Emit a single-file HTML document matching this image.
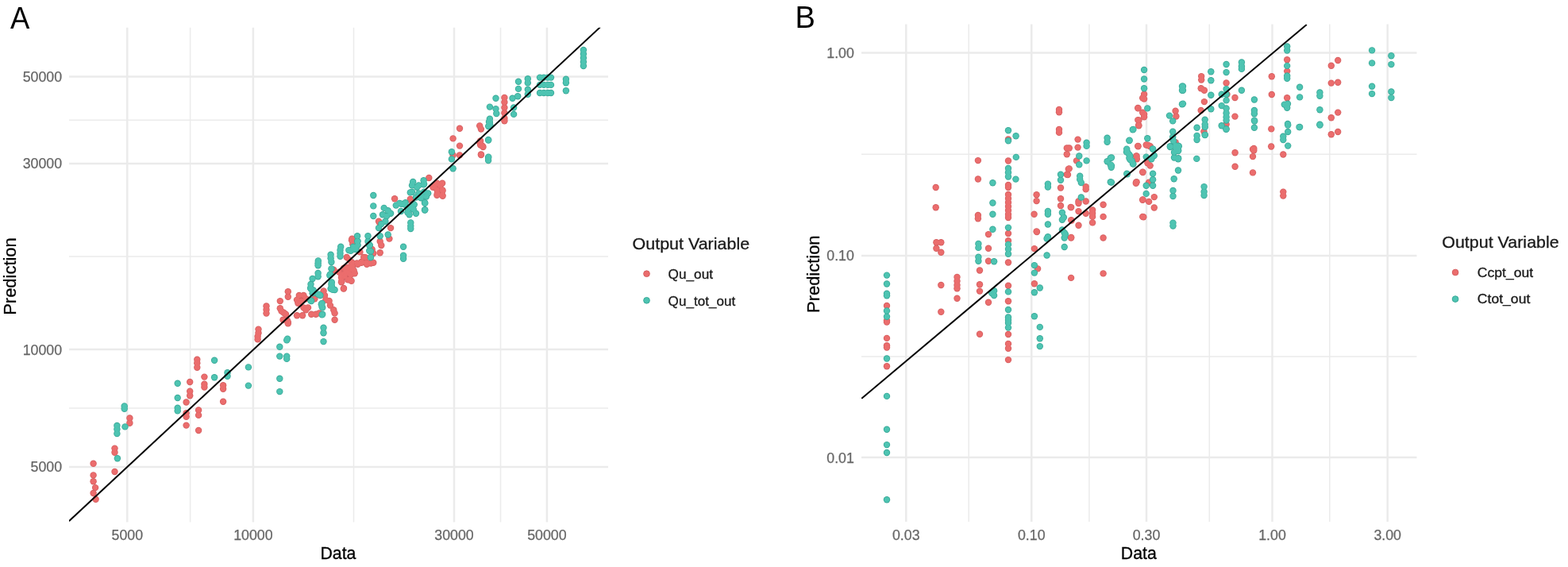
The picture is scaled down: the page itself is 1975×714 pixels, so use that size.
<!DOCTYPE html>
<html><head><meta charset="utf-8"><title>Prediction vs Data</title>
<style>
html,body{margin:0;padding:0;background:#fff;}
body{width:1975px;height:714px;overflow:hidden;}
svg{display:block;}
text{font-family:'Liberation Sans', Arial, Helvetica, sans-serif;}
</style></head><body>
<svg width="1975" height="714" viewBox="0 0 1975 714">
<rect x="0" y="0" width="1975" height="714" fill="#fff"/>

<defs><clipPath id="cA"><rect x="87" y="34.7" width="679" height="622.6999999999999"/></clipPath></defs>
<g stroke="#EBEBEB" fill="none">
<line x1="87" y1="151.25" x2="766" y2="151.25" stroke-width="1.5"/>
<line x1="87" y1="323.0" x2="766" y2="323.0" stroke-width="1.5"/>
<line x1="87" y1="514.0" x2="766" y2="514.0" stroke-width="1.5"/>
<line x1="239.6" y1="34.7" x2="239.6" y2="657.4" stroke-width="1.5"/>
<line x1="445.5" y1="34.7" x2="445.5" y2="657.4" stroke-width="1.5"/>
<line x1="630.5" y1="34.7" x2="630.5" y2="657.4" stroke-width="1.5"/>
<line x1="87" y1="96.6" x2="766" y2="96.6" stroke-width="2.5"/>
<line x1="87" y1="205.9" x2="766" y2="205.9" stroke-width="2.5"/>
<line x1="87" y1="440.1" x2="766" y2="440.1" stroke-width="2.5"/>
<line x1="87" y1="587.9" x2="766" y2="587.9" stroke-width="2.5"/>
<line x1="160.3" y1="34.7" x2="160.3" y2="657.4" stroke-width="2.5"/>
<line x1="318.9" y1="34.7" x2="318.9" y2="657.4" stroke-width="2.5"/>
<line x1="572.0" y1="34.7" x2="572.0" y2="657.4" stroke-width="2.5"/>
<line x1="688.9" y1="34.7" x2="688.9" y2="657.4" stroke-width="2.5"/>
</g>
<defs><clipPath id="cB"><rect x="1085" y="30.5" width="699.5" height="626.5"/></clipPath></defs>
<g stroke="#EBEBEB" fill="none">
<line x1="1085" y1="194.2" x2="1784.5" y2="194.2" stroke-width="1.5"/>
<line x1="1085" y1="449.0" x2="1784.5" y2="449.0" stroke-width="1.5"/>
<line x1="1220.2" y1="30.5" x2="1220.2" y2="657" stroke-width="1.5"/>
<line x1="1371.9" y1="30.5" x2="1371.9" y2="657" stroke-width="1.5"/>
<line x1="1523.3" y1="30.5" x2="1523.3" y2="657" stroke-width="1.5"/>
<line x1="1674.8" y1="30.5" x2="1674.8" y2="657" stroke-width="1.5"/>
<line x1="1085" y1="66.5" x2="1784.5" y2="66.5" stroke-width="2.5"/>
<line x1="1085" y1="321.9" x2="1784.5" y2="321.9" stroke-width="2.5"/>
<line x1="1085" y1="576.1" x2="1784.5" y2="576.1" stroke-width="2.5"/>
<line x1="1141.3" y1="30.5" x2="1141.3" y2="657" stroke-width="2.5"/>
<line x1="1299.3" y1="30.5" x2="1299.3" y2="657" stroke-width="2.5"/>
<line x1="1444.0" y1="30.5" x2="1444.0" y2="657" stroke-width="2.5"/>
<line x1="1602.5" y1="30.5" x2="1602.5" y2="657" stroke-width="2.5"/>
<line x1="1747.7" y1="30.5" x2="1747.7" y2="657" stroke-width="2.5"/>
</g>
<g clip-path="url(#cA)">
<g fill="#D65F61"><circle cx="117.6" cy="583.7" r="4.2"/><circle cx="117.6" cy="598.4" r="4.2"/><circle cx="117.6" cy="606.3" r="4.2"/><circle cx="120.1" cy="614.1" r="4.2"/><circle cx="117.6" cy="621" r="4.2"/><circle cx="120.6" cy="628.8" r="4.2"/><circle cx="144.5" cy="564.6" r="4.2"/><circle cx="144.5" cy="569.8" r="4.2"/><circle cx="144.5" cy="594" r="4.2"/><circle cx="163.4" cy="526.5" r="4.2"/><circle cx="163.4" cy="532.7" r="4.2"/><circle cx="248.3" cy="452.8" r="4.2"/><circle cx="248.3" cy="457.3" r="4.2"/><circle cx="248.3" cy="462.8" r="4.2"/><circle cx="257.4" cy="474.6" r="4.2"/><circle cx="257.4" cy="483.7" r="4.2"/><circle cx="257.4" cy="487.5" r="4.2"/><circle cx="239.2" cy="481" r="4.2"/><circle cx="281.1" cy="485.2" r="4.2"/><circle cx="281.1" cy="489.7" r="4.2"/><circle cx="239.2" cy="492.8" r="4.2"/><circle cx="239.2" cy="498.2" r="4.2"/><circle cx="234.6" cy="506.5" r="4.2"/><circle cx="281.1" cy="505.8" r="4.2"/><circle cx="234.6" cy="520.2" r="4.2"/><circle cx="234.6" cy="524.7" r="4.2"/><circle cx="250.1" cy="516.5" r="4.2"/><circle cx="250.1" cy="522.9" r="4.2"/><circle cx="234.6" cy="535.6" r="4.2"/><circle cx="250.1" cy="542" r="4.2"/><circle cx="325.5" cy="414.6" r="4.2"/><circle cx="325.5" cy="419.2" r="4.2"/><circle cx="324.6" cy="423.8" r="4.2"/><circle cx="324.6" cy="427.4" r="4.2"/><circle cx="335.5" cy="385.5" r="4.2"/><circle cx="335.5" cy="390" r="4.2"/><circle cx="335.5" cy="394.6" r="4.2"/><circle cx="352.8" cy="379.1" r="4.2"/><circle cx="352.8" cy="388.2" r="4.2"/><circle cx="354.6" cy="391.9" r="4.2"/><circle cx="357.4" cy="393.7" r="4.2"/><circle cx="362.8" cy="367.3" r="4.2"/><circle cx="362.8" cy="373.7" r="4.2"/><circle cx="356.5" cy="402.8" r="4.2"/><circle cx="361.9" cy="403.7" r="4.2"/><circle cx="362.8" cy="407.4" r="4.2"/><circle cx="376.8" cy="372" r="4.2"/><circle cx="382.4" cy="372" r="4.2"/><circle cx="374" cy="377.6" r="4.2"/><circle cx="379.6" cy="379" r="4.2"/><circle cx="385.2" cy="376.2" r="4.2"/><circle cx="375.4" cy="381.8" r="4.2"/><circle cx="382.4" cy="387.4" r="4.2"/><circle cx="388" cy="387.4" r="4.2"/><circle cx="385.2" cy="390.2" r="4.2"/><circle cx="374" cy="397.2" r="4.2"/><circle cx="381" cy="397.2" r="4.2"/><circle cx="392.2" cy="395.8" r="4.2"/><circle cx="397.8" cy="395.8" r="4.2"/><circle cx="402" cy="394.4" r="4.2"/><circle cx="396.4" cy="376.2" r="4.2"/><circle cx="407.6" cy="366.4" r="4.2"/><circle cx="409" cy="372" r="4.2"/><circle cx="410.4" cy="377.6" r="4.2"/><circle cx="414.6" cy="379" r="4.2"/><circle cx="416" cy="384.6" r="4.2"/><circle cx="420.2" cy="390.2" r="4.2"/><circle cx="421.6" cy="394.4" r="4.2"/><circle cx="421.6" cy="402.8" r="4.2"/><circle cx="360" cy="395.8" r="4.2"/><circle cx="362.8" cy="405.6" r="4.2"/><circle cx="420.2" cy="339.8" r="4.2"/><circle cx="427.2" cy="342.6" r="4.2"/><circle cx="430" cy="349.6" r="4.2"/><circle cx="432.8" cy="345.4" r="4.2"/><circle cx="438.4" cy="338.4" r="4.2"/><circle cx="444" cy="335.6" r="4.2"/><circle cx="449.6" cy="331.4" r="4.2"/><circle cx="455.2" cy="330" r="4.2"/><circle cx="430" cy="355.2" r="4.2"/><circle cx="438.4" cy="352.4" r="4.2"/><circle cx="442.6" cy="353.8" r="4.2"/><circle cx="432.8" cy="363.6" r="4.2"/><circle cx="420.4" cy="340.4" r="4.2"/><circle cx="436.7" cy="324" r="4.2"/><circle cx="440.5" cy="327.7" r="4.2"/><circle cx="433" cy="337.8" r="4.2"/><circle cx="438" cy="336.6" r="4.2"/><circle cx="443" cy="335.3" r="4.2"/><circle cx="445.6" cy="340.4" r="4.2"/><circle cx="435.5" cy="342.9" r="4.2"/><circle cx="439.3" cy="344.1" r="4.2"/><circle cx="430.4" cy="346.7" r="4.2"/><circle cx="434.2" cy="347.9" r="4.2"/><circle cx="440.5" cy="351.7" r="4.2"/><circle cx="430.4" cy="354.2" r="4.2"/><circle cx="433" cy="363" r="4.2"/><circle cx="450.6" cy="332.8" r="4.2"/><circle cx="455.7" cy="330.3" r="4.2"/><circle cx="458.2" cy="324" r="4.2"/><circle cx="462" cy="332.8" r="4.2"/><circle cx="467" cy="331.5" r="4.2"/><circle cx="468.3" cy="315.1" r="4.2"/><circle cx="443" cy="302.5" r="4.2"/><circle cx="444.3" cy="307.6" r="4.2"/><circle cx="497.1" cy="250.2" r="4.2"/><circle cx="517.3" cy="251.8" r="4.2"/><circle cx="477" cy="278.7" r="4.2"/><circle cx="478.7" cy="282.1" r="4.2"/><circle cx="492.1" cy="287.1" r="4.2"/><circle cx="490.4" cy="300.6" r="4.2"/><circle cx="478.7" cy="304" r="4.2"/><circle cx="480.3" cy="309" r="4.2"/><circle cx="478.7" cy="318.2" r="4.2"/><circle cx="468.6" cy="314" r="4.2"/><circle cx="470.3" cy="319.1" r="4.2"/><circle cx="470.3" cy="330.8" r="4.2"/><circle cx="443.4" cy="300.6" r="4.2"/><circle cx="445" cy="305.6" r="4.2"/><circle cx="453.4" cy="317.4" r="4.2"/><circle cx="460.2" cy="324.1" r="4.2"/><circle cx="455.1" cy="330.8" r="4.2"/><circle cx="461.8" cy="330.8" r="4.2"/><circle cx="443.4" cy="330.8" r="4.2"/><circle cx="443.4" cy="339.2" r="4.2"/><circle cx="446.7" cy="344.3" r="4.2"/><circle cx="441.7" cy="346" r="4.2"/><circle cx="547.6" cy="233.4" r="4.2"/><circle cx="554.3" cy="233.4" r="4.2"/><circle cx="557.6" cy="240.1" r="4.2"/><circle cx="550.9" cy="243.4" r="4.2"/><circle cx="557.6" cy="246.8" r="4.2"/><circle cx="579" cy="161.8" r="4.2"/><circle cx="570.6" cy="174.4" r="4.2"/><circle cx="579" cy="183.6" r="4.2"/><circle cx="570.6" cy="195.4" r="4.2"/><circle cx="579" cy="195.4" r="4.2"/><circle cx="604.2" cy="158.4" r="4.2"/><circle cx="605.9" cy="162.6" r="4.2"/><circle cx="604.2" cy="179.4" r="4.2"/><circle cx="607.6" cy="183.6" r="4.2"/><circle cx="605.9" cy="194.5" r="4.2"/><circle cx="540.3" cy="224" r="4.2"/><circle cx="550.4" cy="230.7" r="4.2"/><circle cx="557.1" cy="230.7" r="4.2"/><circle cx="550.4" cy="239.1" r="4.2"/><circle cx="557.1" cy="239.1" r="4.2"/><circle cx="550.4" cy="245.8" r="4.2"/><circle cx="557.1" cy="245.8" r="4.2"/><circle cx="545.4" cy="235.7" r="4.2"/><circle cx="516.8" cy="250.8" r="4.2"/><circle cx="635.4" cy="122.9" r="4.2"/><circle cx="635.4" cy="128.7" r="4.2"/><circle cx="635.4" cy="135.5" r="4.2"/><circle cx="635.4" cy="142.2" r="4.2"/><circle cx="635.4" cy="148.9" r="4.2"/><circle cx="635.4" cy="152.3" r="4.2"/><circle cx="605.1" cy="177.5" r="4.2"/><circle cx="605.1" cy="182.5" r="4.2"/><circle cx="608.5" cy="185" r="4.2"/><circle cx="606" cy="195.1" r="4.2"/></g><g fill="#EB6D6D"><circle cx="117.6" cy="583.7" r="3.3"/><circle cx="117.6" cy="598.4" r="3.3"/><circle cx="117.6" cy="606.3" r="3.3"/><circle cx="120.1" cy="614.1" r="3.3"/><circle cx="117.6" cy="621" r="3.3"/><circle cx="120.6" cy="628.8" r="3.3"/><circle cx="144.5" cy="564.6" r="3.3"/><circle cx="144.5" cy="569.8" r="3.3"/><circle cx="144.5" cy="594" r="3.3"/><circle cx="163.4" cy="526.5" r="3.3"/><circle cx="163.4" cy="532.7" r="3.3"/><circle cx="248.3" cy="452.8" r="3.3"/><circle cx="248.3" cy="457.3" r="3.3"/><circle cx="248.3" cy="462.8" r="3.3"/><circle cx="257.4" cy="474.6" r="3.3"/><circle cx="257.4" cy="483.7" r="3.3"/><circle cx="257.4" cy="487.5" r="3.3"/><circle cx="239.2" cy="481" r="3.3"/><circle cx="281.1" cy="485.2" r="3.3"/><circle cx="281.1" cy="489.7" r="3.3"/><circle cx="239.2" cy="492.8" r="3.3"/><circle cx="239.2" cy="498.2" r="3.3"/><circle cx="234.6" cy="506.5" r="3.3"/><circle cx="281.1" cy="505.8" r="3.3"/><circle cx="234.6" cy="520.2" r="3.3"/><circle cx="234.6" cy="524.7" r="3.3"/><circle cx="250.1" cy="516.5" r="3.3"/><circle cx="250.1" cy="522.9" r="3.3"/><circle cx="234.6" cy="535.6" r="3.3"/><circle cx="250.1" cy="542" r="3.3"/><circle cx="325.5" cy="414.6" r="3.3"/><circle cx="325.5" cy="419.2" r="3.3"/><circle cx="324.6" cy="423.8" r="3.3"/><circle cx="324.6" cy="427.4" r="3.3"/><circle cx="335.5" cy="385.5" r="3.3"/><circle cx="335.5" cy="390" r="3.3"/><circle cx="335.5" cy="394.6" r="3.3"/><circle cx="352.8" cy="379.1" r="3.3"/><circle cx="352.8" cy="388.2" r="3.3"/><circle cx="354.6" cy="391.9" r="3.3"/><circle cx="357.4" cy="393.7" r="3.3"/><circle cx="362.8" cy="367.3" r="3.3"/><circle cx="362.8" cy="373.7" r="3.3"/><circle cx="356.5" cy="402.8" r="3.3"/><circle cx="361.9" cy="403.7" r="3.3"/><circle cx="362.8" cy="407.4" r="3.3"/><circle cx="376.8" cy="372" r="3.3"/><circle cx="382.4" cy="372" r="3.3"/><circle cx="374" cy="377.6" r="3.3"/><circle cx="379.6" cy="379" r="3.3"/><circle cx="385.2" cy="376.2" r="3.3"/><circle cx="375.4" cy="381.8" r="3.3"/><circle cx="382.4" cy="387.4" r="3.3"/><circle cx="388" cy="387.4" r="3.3"/><circle cx="385.2" cy="390.2" r="3.3"/><circle cx="374" cy="397.2" r="3.3"/><circle cx="381" cy="397.2" r="3.3"/><circle cx="392.2" cy="395.8" r="3.3"/><circle cx="397.8" cy="395.8" r="3.3"/><circle cx="402" cy="394.4" r="3.3"/><circle cx="396.4" cy="376.2" r="3.3"/><circle cx="407.6" cy="366.4" r="3.3"/><circle cx="409" cy="372" r="3.3"/><circle cx="410.4" cy="377.6" r="3.3"/><circle cx="414.6" cy="379" r="3.3"/><circle cx="416" cy="384.6" r="3.3"/><circle cx="420.2" cy="390.2" r="3.3"/><circle cx="421.6" cy="394.4" r="3.3"/><circle cx="421.6" cy="402.8" r="3.3"/><circle cx="360" cy="395.8" r="3.3"/><circle cx="362.8" cy="405.6" r="3.3"/><circle cx="420.2" cy="339.8" r="3.3"/><circle cx="427.2" cy="342.6" r="3.3"/><circle cx="430" cy="349.6" r="3.3"/><circle cx="432.8" cy="345.4" r="3.3"/><circle cx="438.4" cy="338.4" r="3.3"/><circle cx="444" cy="335.6" r="3.3"/><circle cx="449.6" cy="331.4" r="3.3"/><circle cx="455.2" cy="330" r="3.3"/><circle cx="430" cy="355.2" r="3.3"/><circle cx="438.4" cy="352.4" r="3.3"/><circle cx="442.6" cy="353.8" r="3.3"/><circle cx="432.8" cy="363.6" r="3.3"/><circle cx="420.4" cy="340.4" r="3.3"/><circle cx="436.7" cy="324" r="3.3"/><circle cx="440.5" cy="327.7" r="3.3"/><circle cx="433" cy="337.8" r="3.3"/><circle cx="438" cy="336.6" r="3.3"/><circle cx="443" cy="335.3" r="3.3"/><circle cx="445.6" cy="340.4" r="3.3"/><circle cx="435.5" cy="342.9" r="3.3"/><circle cx="439.3" cy="344.1" r="3.3"/><circle cx="430.4" cy="346.7" r="3.3"/><circle cx="434.2" cy="347.9" r="3.3"/><circle cx="440.5" cy="351.7" r="3.3"/><circle cx="430.4" cy="354.2" r="3.3"/><circle cx="433" cy="363" r="3.3"/><circle cx="450.6" cy="332.8" r="3.3"/><circle cx="455.7" cy="330.3" r="3.3"/><circle cx="458.2" cy="324" r="3.3"/><circle cx="462" cy="332.8" r="3.3"/><circle cx="467" cy="331.5" r="3.3"/><circle cx="468.3" cy="315.1" r="3.3"/><circle cx="443" cy="302.5" r="3.3"/><circle cx="444.3" cy="307.6" r="3.3"/><circle cx="497.1" cy="250.2" r="3.3"/><circle cx="517.3" cy="251.8" r="3.3"/><circle cx="477" cy="278.7" r="3.3"/><circle cx="478.7" cy="282.1" r="3.3"/><circle cx="492.1" cy="287.1" r="3.3"/><circle cx="490.4" cy="300.6" r="3.3"/><circle cx="478.7" cy="304" r="3.3"/><circle cx="480.3" cy="309" r="3.3"/><circle cx="478.7" cy="318.2" r="3.3"/><circle cx="468.6" cy="314" r="3.3"/><circle cx="470.3" cy="319.1" r="3.3"/><circle cx="470.3" cy="330.8" r="3.3"/><circle cx="443.4" cy="300.6" r="3.3"/><circle cx="445" cy="305.6" r="3.3"/><circle cx="453.4" cy="317.4" r="3.3"/><circle cx="460.2" cy="324.1" r="3.3"/><circle cx="455.1" cy="330.8" r="3.3"/><circle cx="461.8" cy="330.8" r="3.3"/><circle cx="443.4" cy="330.8" r="3.3"/><circle cx="443.4" cy="339.2" r="3.3"/><circle cx="446.7" cy="344.3" r="3.3"/><circle cx="441.7" cy="346" r="3.3"/><circle cx="547.6" cy="233.4" r="3.3"/><circle cx="554.3" cy="233.4" r="3.3"/><circle cx="557.6" cy="240.1" r="3.3"/><circle cx="550.9" cy="243.4" r="3.3"/><circle cx="557.6" cy="246.8" r="3.3"/><circle cx="579" cy="161.8" r="3.3"/><circle cx="570.6" cy="174.4" r="3.3"/><circle cx="579" cy="183.6" r="3.3"/><circle cx="570.6" cy="195.4" r="3.3"/><circle cx="579" cy="195.4" r="3.3"/><circle cx="604.2" cy="158.4" r="3.3"/><circle cx="605.9" cy="162.6" r="3.3"/><circle cx="604.2" cy="179.4" r="3.3"/><circle cx="607.6" cy="183.6" r="3.3"/><circle cx="605.9" cy="194.5" r="3.3"/><circle cx="540.3" cy="224" r="3.3"/><circle cx="550.4" cy="230.7" r="3.3"/><circle cx="557.1" cy="230.7" r="3.3"/><circle cx="550.4" cy="239.1" r="3.3"/><circle cx="557.1" cy="239.1" r="3.3"/><circle cx="550.4" cy="245.8" r="3.3"/><circle cx="557.1" cy="245.8" r="3.3"/><circle cx="545.4" cy="235.7" r="3.3"/><circle cx="516.8" cy="250.8" r="3.3"/><circle cx="635.4" cy="122.9" r="3.3"/><circle cx="635.4" cy="128.7" r="3.3"/><circle cx="635.4" cy="135.5" r="3.3"/><circle cx="635.4" cy="142.2" r="3.3"/><circle cx="635.4" cy="148.9" r="3.3"/><circle cx="635.4" cy="152.3" r="3.3"/><circle cx="605.1" cy="177.5" r="3.3"/><circle cx="605.1" cy="182.5" r="3.3"/><circle cx="608.5" cy="185" r="3.3"/><circle cx="606" cy="195.1" r="3.3"/></g>
<g fill="#39A998"><circle cx="156.7" cy="511.4" r="4.2"/><circle cx="156.7" cy="514.7" r="4.2"/><circle cx="157.5" cy="537.4" r="4.2"/><circle cx="147.4" cy="536" r="4.2"/><circle cx="147.4" cy="540.5" r="4.2"/><circle cx="147.4" cy="546.1" r="4.2"/><circle cx="147.9" cy="577.2" r="4.2"/><circle cx="270.1" cy="453.7" r="4.2"/><circle cx="312.9" cy="462.4" r="4.2"/><circle cx="286.5" cy="469.2" r="4.2"/><circle cx="286.5" cy="473.7" r="4.2"/><circle cx="270.1" cy="475.2" r="4.2"/><circle cx="223.7" cy="482.8" r="4.2"/><circle cx="312.9" cy="485.6" r="4.2"/><circle cx="223.7" cy="501" r="4.2"/><circle cx="223.7" cy="513.8" r="4.2"/><circle cx="223.7" cy="517.4" r="4.2"/><circle cx="391.1" cy="362.7" r="4.2"/><circle cx="394.7" cy="365.5" r="4.2"/><circle cx="391.1" cy="378.2" r="4.2"/><circle cx="402" cy="370.9" r="4.2"/><circle cx="405.6" cy="381.9" r="4.2"/><circle cx="405.6" cy="386.4" r="4.2"/><circle cx="416.6" cy="363.6" r="4.2"/><circle cx="405.6" cy="396.4" r="4.2"/><circle cx="407.5" cy="412.8" r="4.2"/><circle cx="407.5" cy="419.2" r="4.2"/><circle cx="407.5" cy="430.1" r="4.2"/><circle cx="361.2" cy="428.4" r="4.2"/><circle cx="352.3" cy="436.8" r="4.2"/><circle cx="352.3" cy="448.6" r="4.2"/><circle cx="361.2" cy="448.6" r="4.2"/><circle cx="361.2" cy="451.9" r="4.2"/><circle cx="352.3" cy="476.8" r="4.2"/><circle cx="352.3" cy="493.1" r="4.2"/><circle cx="400.6" cy="331.4" r="4.2"/><circle cx="400.6" cy="334.2" r="4.2"/><circle cx="400.6" cy="344" r="4.2"/><circle cx="400.6" cy="348.2" r="4.2"/><circle cx="393.6" cy="351" r="4.2"/><circle cx="391.5" cy="358" r="4.2"/><circle cx="391.5" cy="363.6" r="4.2"/><circle cx="393.6" cy="369.2" r="4.2"/><circle cx="400.6" cy="370.6" r="4.2"/><circle cx="403.4" cy="372" r="4.2"/><circle cx="392.2" cy="379" r="4.2"/><circle cx="404.8" cy="383.2" r="4.2"/><circle cx="406.2" cy="387.4" r="4.2"/><circle cx="406.2" cy="395.8" r="4.2"/><circle cx="417.4" cy="338.4" r="4.2"/><circle cx="416" cy="345.4" r="4.2"/><circle cx="417.4" cy="358" r="4.2"/><circle cx="418.8" cy="363.6" r="4.2"/><circle cx="421.6" cy="365" r="4.2"/><circle cx="417.4" cy="330" r="4.2"/><circle cx="362.1" cy="426.6" r="4.2"/><circle cx="400.8" cy="328.4" r="4.2"/><circle cx="416.6" cy="320.8" r="4.2"/><circle cx="416.6" cy="325.2" r="4.2"/><circle cx="429.2" cy="310.7" r="4.2"/><circle cx="428.5" cy="315.1" r="4.2"/><circle cx="428.5" cy="318.9" r="4.2"/><circle cx="428.5" cy="322.7" r="4.2"/><circle cx="415.3" cy="346.7" r="4.2"/><circle cx="417.8" cy="355.5" r="4.2"/><circle cx="417.8" cy="360.5" r="4.2"/><circle cx="419.1" cy="364.9" r="4.2"/><circle cx="439.3" cy="315.1" r="4.2"/><circle cx="446.8" cy="313.9" r="4.2"/><circle cx="450.6" cy="308.8" r="4.2"/><circle cx="450.6" cy="303.8" r="4.2"/><circle cx="465.8" cy="308.8" r="4.2"/><circle cx="467" cy="316.4" r="4.2"/><circle cx="467" cy="324" r="4.2"/><circle cx="470.3" cy="246" r="4.2"/><circle cx="470.3" cy="259.4" r="4.2"/><circle cx="470.3" cy="272" r="4.2"/><circle cx="508.1" cy="310.7" r="4.2"/><circle cx="508.1" cy="321.6" r="4.2"/><circle cx="508.1" cy="325.8" r="4.2"/><circle cx="517.3" cy="280.4" r="4.2"/><circle cx="517.3" cy="284.6" r="4.2"/><circle cx="517.3" cy="288" r="4.2"/><circle cx="535" cy="255.2" r="4.2"/><circle cx="535" cy="264.5" r="4.2"/><circle cx="519" cy="233.4" r="4.2"/><circle cx="527.4" cy="233.4" r="4.2"/><circle cx="534.1" cy="231.7" r="4.2"/><circle cx="519" cy="241.8" r="4.2"/><circle cx="527.4" cy="243.4" r="4.2"/><circle cx="534.1" cy="241.8" r="4.2"/><circle cx="539.2" cy="243.4" r="4.2"/><circle cx="524" cy="248.5" r="4.2"/><circle cx="530.8" cy="246.8" r="4.2"/><circle cx="520.7" cy="256.9" r="4.2"/><circle cx="520.7" cy="263.6" r="4.2"/><circle cx="524" cy="268.7" r="4.2"/><circle cx="515.6" cy="270.3" r="4.2"/><circle cx="483.7" cy="261.9" r="4.2"/><circle cx="488.7" cy="265.3" r="4.2"/><circle cx="482" cy="270.3" r="4.2"/><circle cx="487.1" cy="272" r="4.2"/><circle cx="492.1" cy="268.7" r="4.2"/><circle cx="498.8" cy="258.6" r="4.2"/><circle cx="505.5" cy="256.9" r="4.2"/><circle cx="510.6" cy="255.2" r="4.2"/><circle cx="514" cy="263.6" r="4.2"/><circle cx="485.4" cy="278.7" r="4.2"/><circle cx="480.3" cy="282.1" r="4.2"/><circle cx="477" cy="287.1" r="4.2"/><circle cx="488.7" cy="295.5" r="4.2"/><circle cx="478.7" cy="297.2" r="4.2"/><circle cx="450.1" cy="297.2" r="4.2"/><circle cx="450.1" cy="304" r="4.2"/><circle cx="445" cy="310.7" r="4.2"/><circle cx="448.4" cy="314" r="4.2"/><circle cx="441.7" cy="315.7" r="4.2"/><circle cx="463.5" cy="297.2" r="4.2"/><circle cx="463.5" cy="304" r="4.2"/><circle cx="465.2" cy="309" r="4.2"/><circle cx="465.2" cy="315.7" r="4.2"/><circle cx="466.9" cy="324.1" r="4.2"/><circle cx="568.9" cy="191.2" r="4.2"/><circle cx="568.9" cy="200.4" r="4.2"/><circle cx="570.6" cy="212.2" r="4.2"/><circle cx="615.1" cy="176" r="4.2"/><circle cx="615.1" cy="198.7" r="4.2"/><circle cx="615.1" cy="202.1" r="4.2"/><circle cx="616" cy="153.4" r="4.2"/><circle cx="617.6" cy="158.4" r="4.2"/><circle cx="520.2" cy="229" r="4.2"/><circle cx="533.6" cy="227.3" r="4.2"/><circle cx="525.2" cy="235.7" r="4.2"/><circle cx="516.8" cy="242.4" r="4.2"/><circle cx="533.6" cy="232.4" r="4.2"/><circle cx="537" cy="247.5" r="4.2"/><circle cx="530.3" cy="249.2" r="4.2"/><circle cx="535.3" cy="255.9" r="4.2"/><circle cx="535.3" cy="264.3" r="4.2"/><circle cx="503.4" cy="255.9" r="4.2"/><circle cx="510.1" cy="257.6" r="4.2"/><circle cx="516.8" cy="260.9" r="4.2"/><circle cx="521.8" cy="257.6" r="4.2"/><circle cx="505" cy="266" r="4.2"/><circle cx="513.4" cy="267.6" r="4.2"/><circle cx="653" cy="102.7" r="4.2"/><circle cx="653" cy="111.9" r="4.2"/><circle cx="652.2" cy="121.2" r="4.2"/><circle cx="645.5" cy="123.7" r="4.2"/><circle cx="664.8" cy="99.3" r="4.2"/><circle cx="664.8" cy="104.4" r="4.2"/><circle cx="664.8" cy="112.8" r="4.2"/><circle cx="664.8" cy="118.7" r="4.2"/><circle cx="680" cy="97.6" r="4.2"/><circle cx="685" cy="97.6" r="4.2"/><circle cx="690" cy="97.6" r="4.2"/><circle cx="694" cy="97.6" r="4.2"/><circle cx="680" cy="106.9" r="4.2"/><circle cx="685" cy="106.9" r="4.2"/><circle cx="690" cy="106.9" r="4.2"/><circle cx="694" cy="106.9" r="4.2"/><circle cx="680" cy="117" r="4.2"/><circle cx="685" cy="117" r="4.2"/><circle cx="690" cy="117" r="4.2"/><circle cx="694" cy="117" r="4.2"/><circle cx="624.5" cy="123.7" r="4.2"/><circle cx="616.9" cy="134.6" r="4.2"/><circle cx="624.5" cy="137.1" r="4.2"/><circle cx="625.3" cy="143" r="4.2"/><circle cx="647.1" cy="135.5" r="4.2"/><circle cx="647.1" cy="143.9" r="4.2"/><circle cx="616.9" cy="149.7" r="4.2"/><circle cx="616.9" cy="153.9" r="4.2"/><circle cx="615.2" cy="159" r="4.2"/><circle cx="615.2" cy="176.6" r="4.2"/><circle cx="615.2" cy="197.6" r="4.2"/><circle cx="734.9" cy="63" r="4.2"/><circle cx="734.9" cy="68" r="4.2"/><circle cx="734.9" cy="73" r="4.2"/><circle cx="734.9" cy="78" r="4.2"/><circle cx="734.9" cy="83" r="4.2"/><circle cx="712.9" cy="99.8" r="4.2"/><circle cx="712.9" cy="104.2" r="4.2"/><circle cx="712.9" cy="114.3" r="4.2"/></g><g fill="#4EC4B2"><circle cx="156.7" cy="511.4" r="3.3"/><circle cx="156.7" cy="514.7" r="3.3"/><circle cx="157.5" cy="537.4" r="3.3"/><circle cx="147.4" cy="536" r="3.3"/><circle cx="147.4" cy="540.5" r="3.3"/><circle cx="147.4" cy="546.1" r="3.3"/><circle cx="147.9" cy="577.2" r="3.3"/><circle cx="270.1" cy="453.7" r="3.3"/><circle cx="312.9" cy="462.4" r="3.3"/><circle cx="286.5" cy="469.2" r="3.3"/><circle cx="286.5" cy="473.7" r="3.3"/><circle cx="270.1" cy="475.2" r="3.3"/><circle cx="223.7" cy="482.8" r="3.3"/><circle cx="312.9" cy="485.6" r="3.3"/><circle cx="223.7" cy="501" r="3.3"/><circle cx="223.7" cy="513.8" r="3.3"/><circle cx="223.7" cy="517.4" r="3.3"/><circle cx="391.1" cy="362.7" r="3.3"/><circle cx="394.7" cy="365.5" r="3.3"/><circle cx="391.1" cy="378.2" r="3.3"/><circle cx="402" cy="370.9" r="3.3"/><circle cx="405.6" cy="381.9" r="3.3"/><circle cx="405.6" cy="386.4" r="3.3"/><circle cx="416.6" cy="363.6" r="3.3"/><circle cx="405.6" cy="396.4" r="3.3"/><circle cx="407.5" cy="412.8" r="3.3"/><circle cx="407.5" cy="419.2" r="3.3"/><circle cx="407.5" cy="430.1" r="3.3"/><circle cx="361.2" cy="428.4" r="3.3"/><circle cx="352.3" cy="436.8" r="3.3"/><circle cx="352.3" cy="448.6" r="3.3"/><circle cx="361.2" cy="448.6" r="3.3"/><circle cx="361.2" cy="451.9" r="3.3"/><circle cx="352.3" cy="476.8" r="3.3"/><circle cx="352.3" cy="493.1" r="3.3"/><circle cx="400.6" cy="331.4" r="3.3"/><circle cx="400.6" cy="334.2" r="3.3"/><circle cx="400.6" cy="344" r="3.3"/><circle cx="400.6" cy="348.2" r="3.3"/><circle cx="393.6" cy="351" r="3.3"/><circle cx="391.5" cy="358" r="3.3"/><circle cx="391.5" cy="363.6" r="3.3"/><circle cx="393.6" cy="369.2" r="3.3"/><circle cx="400.6" cy="370.6" r="3.3"/><circle cx="403.4" cy="372" r="3.3"/><circle cx="392.2" cy="379" r="3.3"/><circle cx="404.8" cy="383.2" r="3.3"/><circle cx="406.2" cy="387.4" r="3.3"/><circle cx="406.2" cy="395.8" r="3.3"/><circle cx="417.4" cy="338.4" r="3.3"/><circle cx="416" cy="345.4" r="3.3"/><circle cx="417.4" cy="358" r="3.3"/><circle cx="418.8" cy="363.6" r="3.3"/><circle cx="421.6" cy="365" r="3.3"/><circle cx="417.4" cy="330" r="3.3"/><circle cx="362.1" cy="426.6" r="3.3"/><circle cx="400.8" cy="328.4" r="3.3"/><circle cx="416.6" cy="320.8" r="3.3"/><circle cx="416.6" cy="325.2" r="3.3"/><circle cx="429.2" cy="310.7" r="3.3"/><circle cx="428.5" cy="315.1" r="3.3"/><circle cx="428.5" cy="318.9" r="3.3"/><circle cx="428.5" cy="322.7" r="3.3"/><circle cx="415.3" cy="346.7" r="3.3"/><circle cx="417.8" cy="355.5" r="3.3"/><circle cx="417.8" cy="360.5" r="3.3"/><circle cx="419.1" cy="364.9" r="3.3"/><circle cx="439.3" cy="315.1" r="3.3"/><circle cx="446.8" cy="313.9" r="3.3"/><circle cx="450.6" cy="308.8" r="3.3"/><circle cx="450.6" cy="303.8" r="3.3"/><circle cx="465.8" cy="308.8" r="3.3"/><circle cx="467" cy="316.4" r="3.3"/><circle cx="467" cy="324" r="3.3"/><circle cx="470.3" cy="246" r="3.3"/><circle cx="470.3" cy="259.4" r="3.3"/><circle cx="470.3" cy="272" r="3.3"/><circle cx="508.1" cy="310.7" r="3.3"/><circle cx="508.1" cy="321.6" r="3.3"/><circle cx="508.1" cy="325.8" r="3.3"/><circle cx="517.3" cy="280.4" r="3.3"/><circle cx="517.3" cy="284.6" r="3.3"/><circle cx="517.3" cy="288" r="3.3"/><circle cx="535" cy="255.2" r="3.3"/><circle cx="535" cy="264.5" r="3.3"/><circle cx="519" cy="233.4" r="3.3"/><circle cx="527.4" cy="233.4" r="3.3"/><circle cx="534.1" cy="231.7" r="3.3"/><circle cx="519" cy="241.8" r="3.3"/><circle cx="527.4" cy="243.4" r="3.3"/><circle cx="534.1" cy="241.8" r="3.3"/><circle cx="539.2" cy="243.4" r="3.3"/><circle cx="524" cy="248.5" r="3.3"/><circle cx="530.8" cy="246.8" r="3.3"/><circle cx="520.7" cy="256.9" r="3.3"/><circle cx="520.7" cy="263.6" r="3.3"/><circle cx="524" cy="268.7" r="3.3"/><circle cx="515.6" cy="270.3" r="3.3"/><circle cx="483.7" cy="261.9" r="3.3"/><circle cx="488.7" cy="265.3" r="3.3"/><circle cx="482" cy="270.3" r="3.3"/><circle cx="487.1" cy="272" r="3.3"/><circle cx="492.1" cy="268.7" r="3.3"/><circle cx="498.8" cy="258.6" r="3.3"/><circle cx="505.5" cy="256.9" r="3.3"/><circle cx="510.6" cy="255.2" r="3.3"/><circle cx="514" cy="263.6" r="3.3"/><circle cx="485.4" cy="278.7" r="3.3"/><circle cx="480.3" cy="282.1" r="3.3"/><circle cx="477" cy="287.1" r="3.3"/><circle cx="488.7" cy="295.5" r="3.3"/><circle cx="478.7" cy="297.2" r="3.3"/><circle cx="450.1" cy="297.2" r="3.3"/><circle cx="450.1" cy="304" r="3.3"/><circle cx="445" cy="310.7" r="3.3"/><circle cx="448.4" cy="314" r="3.3"/><circle cx="441.7" cy="315.7" r="3.3"/><circle cx="463.5" cy="297.2" r="3.3"/><circle cx="463.5" cy="304" r="3.3"/><circle cx="465.2" cy="309" r="3.3"/><circle cx="465.2" cy="315.7" r="3.3"/><circle cx="466.9" cy="324.1" r="3.3"/><circle cx="568.9" cy="191.2" r="3.3"/><circle cx="568.9" cy="200.4" r="3.3"/><circle cx="570.6" cy="212.2" r="3.3"/><circle cx="615.1" cy="176" r="3.3"/><circle cx="615.1" cy="198.7" r="3.3"/><circle cx="615.1" cy="202.1" r="3.3"/><circle cx="616" cy="153.4" r="3.3"/><circle cx="617.6" cy="158.4" r="3.3"/><circle cx="520.2" cy="229" r="3.3"/><circle cx="533.6" cy="227.3" r="3.3"/><circle cx="525.2" cy="235.7" r="3.3"/><circle cx="516.8" cy="242.4" r="3.3"/><circle cx="533.6" cy="232.4" r="3.3"/><circle cx="537" cy="247.5" r="3.3"/><circle cx="530.3" cy="249.2" r="3.3"/><circle cx="535.3" cy="255.9" r="3.3"/><circle cx="535.3" cy="264.3" r="3.3"/><circle cx="503.4" cy="255.9" r="3.3"/><circle cx="510.1" cy="257.6" r="3.3"/><circle cx="516.8" cy="260.9" r="3.3"/><circle cx="521.8" cy="257.6" r="3.3"/><circle cx="505" cy="266" r="3.3"/><circle cx="513.4" cy="267.6" r="3.3"/><circle cx="653" cy="102.7" r="3.3"/><circle cx="653" cy="111.9" r="3.3"/><circle cx="652.2" cy="121.2" r="3.3"/><circle cx="645.5" cy="123.7" r="3.3"/><circle cx="664.8" cy="99.3" r="3.3"/><circle cx="664.8" cy="104.4" r="3.3"/><circle cx="664.8" cy="112.8" r="3.3"/><circle cx="664.8" cy="118.7" r="3.3"/><circle cx="680" cy="97.6" r="3.3"/><circle cx="685" cy="97.6" r="3.3"/><circle cx="690" cy="97.6" r="3.3"/><circle cx="694" cy="97.6" r="3.3"/><circle cx="680" cy="106.9" r="3.3"/><circle cx="685" cy="106.9" r="3.3"/><circle cx="690" cy="106.9" r="3.3"/><circle cx="694" cy="106.9" r="3.3"/><circle cx="680" cy="117" r="3.3"/><circle cx="685" cy="117" r="3.3"/><circle cx="690" cy="117" r="3.3"/><circle cx="694" cy="117" r="3.3"/><circle cx="624.5" cy="123.7" r="3.3"/><circle cx="616.9" cy="134.6" r="3.3"/><circle cx="624.5" cy="137.1" r="3.3"/><circle cx="625.3" cy="143" r="3.3"/><circle cx="647.1" cy="135.5" r="3.3"/><circle cx="647.1" cy="143.9" r="3.3"/><circle cx="616.9" cy="149.7" r="3.3"/><circle cx="616.9" cy="153.9" r="3.3"/><circle cx="615.2" cy="159" r="3.3"/><circle cx="615.2" cy="176.6" r="3.3"/><circle cx="615.2" cy="197.6" r="3.3"/><circle cx="734.9" cy="63" r="3.3"/><circle cx="734.9" cy="68" r="3.3"/><circle cx="734.9" cy="73" r="3.3"/><circle cx="734.9" cy="78" r="3.3"/><circle cx="734.9" cy="83" r="3.3"/><circle cx="712.9" cy="99.8" r="3.3"/><circle cx="712.9" cy="104.2" r="3.3"/><circle cx="712.9" cy="114.3" r="3.3"/></g>
<line x1="86.9" y1="656.2" x2="756.1" y2="34.1" stroke="#000" stroke-width="2.0"/>
</g>
<g clip-path="url(#cB)">
<g fill="#D65F61"><circle cx="1117" cy="385" r="4.2"/><circle cx="1117" cy="403.6" r="4.2"/><circle cx="1117" cy="405.6" r="4.2"/><circle cx="1117" cy="425.9" r="4.2"/><circle cx="1117" cy="435.2" r="4.2"/><circle cx="1117" cy="437.6" r="4.2"/><circle cx="1117" cy="461.3" r="4.2"/><circle cx="1178.7" cy="236" r="4.2"/><circle cx="1178.7" cy="261.2" r="4.2"/><circle cx="1179.4" cy="305.2" r="4.2"/><circle cx="1185.3" cy="305.2" r="4.2"/><circle cx="1179.4" cy="312.8" r="4.2"/><circle cx="1185.3" cy="317.8" r="4.2"/><circle cx="1185.3" cy="359" r="4.2"/><circle cx="1185.3" cy="392.8" r="4.2"/><circle cx="1205.5" cy="348.9" r="4.2"/><circle cx="1205.5" cy="354" r="4.2"/><circle cx="1205.5" cy="359" r="4.2"/><circle cx="1205.5" cy="363.2" r="4.2"/><circle cx="1205.5" cy="375.8" r="4.2"/><circle cx="1231.9" cy="202.1" r="4.2"/><circle cx="1231.9" cy="225.5" r="4.2"/><circle cx="1231.9" cy="271" r="4.2"/><circle cx="1231.9" cy="275.2" r="4.2"/><circle cx="1234" cy="340.5" r="4.2"/><circle cx="1234" cy="358.2" r="4.2"/><circle cx="1234" cy="366.6" r="4.2"/><circle cx="1234" cy="420.7" r="4.2"/><circle cx="1245" cy="295.1" r="4.2"/><circle cx="1245" cy="312.8" r="4.2"/><circle cx="1245" cy="328.7" r="4.2"/><circle cx="1245" cy="380.8" r="4.2"/><circle cx="1270" cy="175.5" r="4.2"/><circle cx="1270" cy="202.5" r="4.2"/><circle cx="1270" cy="233" r="4.2"/><circle cx="1270" cy="236.1" r="4.2"/><circle cx="1270" cy="245" r="4.2"/><circle cx="1270" cy="250" r="4.2"/><circle cx="1270" cy="255" r="4.2"/><circle cx="1270" cy="260" r="4.2"/><circle cx="1270" cy="265" r="4.2"/><circle cx="1270" cy="270" r="4.2"/><circle cx="1270" cy="274" r="4.2"/><circle cx="1270" cy="294" r="4.2"/><circle cx="1270" cy="303.1" r="4.2"/><circle cx="1270" cy="330.5" r="4.2"/><circle cx="1270" cy="359.8" r="4.2"/><circle cx="1270" cy="379.3" r="4.2"/><circle cx="1270" cy="421" r="4.2"/><circle cx="1270" cy="432.9" r="4.2"/><circle cx="1270" cy="438.8" r="4.2"/><circle cx="1270" cy="453.1" r="4.2"/><circle cx="1306" cy="292.1" r="4.2"/><circle cx="1302.9" cy="313.1" r="4.2"/><circle cx="1307.1" cy="338.4" r="4.2"/><circle cx="1302.9" cy="357.3" r="4.2"/><circle cx="1349.1" cy="299.5" r="4.2"/><circle cx="1349.1" cy="349.9" r="4.2"/><circle cx="1334" cy="137.9" r="4.2"/><circle cx="1334" cy="141.3" r="4.2"/><circle cx="1334" cy="162.9" r="4.2"/><circle cx="1334" cy="166.9" r="4.2"/><circle cx="1343.8" cy="186.5" r="4.2"/><circle cx="1346.8" cy="186.5" r="4.2"/><circle cx="1343.8" cy="194.3" r="4.2"/><circle cx="1345.8" cy="212.9" r="4.2"/><circle cx="1343.8" cy="219.8" r="4.2"/><circle cx="1357.6" cy="175.6" r="4.2"/><circle cx="1357.6" cy="185.6" r="4.2"/><circle cx="1356" cy="202.4" r="4.2"/><circle cx="1336" cy="236.5" r="4.2"/><circle cx="1305.6" cy="245.3" r="4.2"/><circle cx="1305.6" cy="253.1" r="4.2"/><circle cx="1336" cy="250.2" r="4.2"/><circle cx="1336" cy="259" r="4.2"/><circle cx="1348.7" cy="261" r="4.2"/><circle cx="1302.6" cy="269.8" r="4.2"/><circle cx="1305.6" cy="291.4" r="4.2"/><circle cx="1349.7" cy="277.6" r="4.2"/><circle cx="1346.7" cy="212.4" r="4.2"/><circle cx="1345" cy="220" r="4.2"/><circle cx="1367.7" cy="235.1" r="4.2"/><circle cx="1367.7" cy="238.4" r="4.2"/><circle cx="1358.5" cy="253.5" r="4.2"/><circle cx="1358.5" cy="256" r="4.2"/><circle cx="1367.7" cy="253.5" r="4.2"/><circle cx="1349.2" cy="261.1" r="4.2"/><circle cx="1358.5" cy="266.1" r="4.2"/><circle cx="1367.7" cy="268.7" r="4.2"/><circle cx="1349.2" cy="277.1" r="4.2"/><circle cx="1358.5" cy="283.8" r="4.2"/><circle cx="1349.2" cy="298.9" r="4.2"/><circle cx="1376.1" cy="264.5" r="4.2"/><circle cx="1376.1" cy="268.7" r="4.2"/><circle cx="1376.1" cy="272.9" r="4.2"/><circle cx="1376.1" cy="280.4" r="4.2"/><circle cx="1389.6" cy="257.7" r="4.2"/><circle cx="1389.6" cy="272.9" r="4.2"/><circle cx="1389.6" cy="299.5" r="4.2"/><circle cx="1389.6" cy="344.4" r="4.2"/><circle cx="1430.8" cy="230.8" r="4.2"/><circle cx="1439.2" cy="251.8" r="4.2"/><circle cx="1439.2" cy="272.9" r="4.2"/><circle cx="1433.3" cy="136" r="4.2"/><circle cx="1433.3" cy="151.1" r="4.2"/><circle cx="1434.1" cy="157.8" r="4.2"/><circle cx="1439.2" cy="141.8" r="4.2"/><circle cx="1439.2" cy="123.4" r="4.2"/><circle cx="1433.3" cy="183.9" r="4.2"/><circle cx="1431.6" cy="196.5" r="4.2"/><circle cx="1439.2" cy="216.6" r="4.2"/><circle cx="1431.6" cy="229.2" r="4.2"/><circle cx="1441.1" cy="118.7" r="4.2"/><circle cx="1441.1" cy="124.6" r="4.2"/><circle cx="1433.5" cy="136.4" r="4.2"/><circle cx="1441.1" cy="143.9" r="4.2"/><circle cx="1441.1" cy="147.3" r="4.2"/><circle cx="1434.4" cy="151.5" r="4.2"/><circle cx="1434.4" cy="158.2" r="4.2"/><circle cx="1433.5" cy="184.3" r="4.2"/><circle cx="1445.3" cy="182.6" r="4.2"/><circle cx="1448.7" cy="184.3" r="4.2"/><circle cx="1480.6" cy="139.7" r="4.2"/><circle cx="1481.4" cy="146.5" r="4.2"/><circle cx="1480.6" cy="179.2" r="4.2"/><circle cx="1513.2" cy="96.1" r="4.2"/><circle cx="1513.2" cy="100.6" r="4.2"/><circle cx="1512.7" cy="111.3" r="4.2"/><circle cx="1516.9" cy="113.8" r="4.2"/><circle cx="1516.9" cy="128.1" r="4.2"/><circle cx="1512.7" cy="139" r="4.2"/><circle cx="1431.1" cy="196.8" r="4.2"/><circle cx="1431.9" cy="200.2" r="4.2"/><circle cx="1443.7" cy="182.5" r="4.2"/><circle cx="1447.1" cy="183.4" r="4.2"/><circle cx="1445.4" cy="205.2" r="4.2"/><circle cx="1448.7" cy="208.6" r="4.2"/><circle cx="1439.5" cy="217" r="4.2"/><circle cx="1431.1" cy="229.6" r="4.2"/><circle cx="1447.1" cy="229.6" r="4.2"/><circle cx="1439.5" cy="251.4" r="4.2"/><circle cx="1447.1" cy="253.9" r="4.2"/><circle cx="1453.8" cy="248.1" r="4.2"/><circle cx="1453.8" cy="261.5" r="4.2"/><circle cx="1440.3" cy="273.3" r="4.2"/><circle cx="1479" cy="181.7" r="4.2"/><circle cx="1516.4" cy="165.6" r="4.2"/><circle cx="1544.6" cy="104.5" r="4.2"/><circle cx="1545.5" cy="118.8" r="4.2"/><circle cx="1544.6" cy="156.6" r="4.2"/><circle cx="1555.5" cy="123" r="4.2"/><circle cx="1555.5" cy="146.6" r="4.2"/><circle cx="1555.6" cy="192.2" r="4.2"/><circle cx="1555.6" cy="209.7" r="4.2"/><circle cx="1578" cy="188" r="4.2"/><circle cx="1578" cy="197.1" r="4.2"/><circle cx="1578" cy="217.4" r="4.2"/><circle cx="1579.3" cy="187" r="4.2"/><circle cx="1579.3" cy="189.5" r="4.2"/><circle cx="1601.8" cy="96.3" r="4.2"/><circle cx="1601.8" cy="119" r="4.2"/><circle cx="1601.3" cy="162.4" r="4.2"/><circle cx="1601.2" cy="184.5" r="4.2"/><circle cx="1621.2" cy="75.3" r="4.2"/><circle cx="1621.2" cy="89.6" r="4.2"/><circle cx="1621.2" cy="123.2" r="4.2"/><circle cx="1616.3" cy="194.5" r="4.2"/><circle cx="1616.3" cy="241.6" r="4.2"/><circle cx="1616.3" cy="246.6" r="4.2"/><circle cx="1676.8" cy="82.8" r="4.2"/><circle cx="1685.2" cy="76" r="4.2"/><circle cx="1676.8" cy="104.6" r="4.2"/><circle cx="1685.2" cy="103.8" r="4.2"/><circle cx="1685.2" cy="141.6" r="4.2"/><circle cx="1676.8" cy="148.3" r="4.2"/><circle cx="1685.2" cy="166" r="4.2"/><circle cx="1676.8" cy="169.3" r="4.2"/></g><g fill="#EB6D6D"><circle cx="1117" cy="385" r="3.3"/><circle cx="1117" cy="403.6" r="3.3"/><circle cx="1117" cy="405.6" r="3.3"/><circle cx="1117" cy="425.9" r="3.3"/><circle cx="1117" cy="435.2" r="3.3"/><circle cx="1117" cy="437.6" r="3.3"/><circle cx="1117" cy="461.3" r="3.3"/><circle cx="1178.7" cy="236" r="3.3"/><circle cx="1178.7" cy="261.2" r="3.3"/><circle cx="1179.4" cy="305.2" r="3.3"/><circle cx="1185.3" cy="305.2" r="3.3"/><circle cx="1179.4" cy="312.8" r="3.3"/><circle cx="1185.3" cy="317.8" r="3.3"/><circle cx="1185.3" cy="359" r="3.3"/><circle cx="1185.3" cy="392.8" r="3.3"/><circle cx="1205.5" cy="348.9" r="3.3"/><circle cx="1205.5" cy="354" r="3.3"/><circle cx="1205.5" cy="359" r="3.3"/><circle cx="1205.5" cy="363.2" r="3.3"/><circle cx="1205.5" cy="375.8" r="3.3"/><circle cx="1231.9" cy="202.1" r="3.3"/><circle cx="1231.9" cy="225.5" r="3.3"/><circle cx="1231.9" cy="271" r="3.3"/><circle cx="1231.9" cy="275.2" r="3.3"/><circle cx="1234" cy="340.5" r="3.3"/><circle cx="1234" cy="358.2" r="3.3"/><circle cx="1234" cy="366.6" r="3.3"/><circle cx="1234" cy="420.7" r="3.3"/><circle cx="1245" cy="295.1" r="3.3"/><circle cx="1245" cy="312.8" r="3.3"/><circle cx="1245" cy="328.7" r="3.3"/><circle cx="1245" cy="380.8" r="3.3"/><circle cx="1270" cy="175.5" r="3.3"/><circle cx="1270" cy="202.5" r="3.3"/><circle cx="1270" cy="233" r="3.3"/><circle cx="1270" cy="236.1" r="3.3"/><circle cx="1270" cy="245" r="3.3"/><circle cx="1270" cy="250" r="3.3"/><circle cx="1270" cy="255" r="3.3"/><circle cx="1270" cy="260" r="3.3"/><circle cx="1270" cy="265" r="3.3"/><circle cx="1270" cy="270" r="3.3"/><circle cx="1270" cy="274" r="3.3"/><circle cx="1270" cy="294" r="3.3"/><circle cx="1270" cy="303.1" r="3.3"/><circle cx="1270" cy="330.5" r="3.3"/><circle cx="1270" cy="359.8" r="3.3"/><circle cx="1270" cy="379.3" r="3.3"/><circle cx="1270" cy="421" r="3.3"/><circle cx="1270" cy="432.9" r="3.3"/><circle cx="1270" cy="438.8" r="3.3"/><circle cx="1270" cy="453.1" r="3.3"/><circle cx="1306" cy="292.1" r="3.3"/><circle cx="1302.9" cy="313.1" r="3.3"/><circle cx="1307.1" cy="338.4" r="3.3"/><circle cx="1302.9" cy="357.3" r="3.3"/><circle cx="1349.1" cy="299.5" r="3.3"/><circle cx="1349.1" cy="349.9" r="3.3"/><circle cx="1334" cy="137.9" r="3.3"/><circle cx="1334" cy="141.3" r="3.3"/><circle cx="1334" cy="162.9" r="3.3"/><circle cx="1334" cy="166.9" r="3.3"/><circle cx="1343.8" cy="186.5" r="3.3"/><circle cx="1346.8" cy="186.5" r="3.3"/><circle cx="1343.8" cy="194.3" r="3.3"/><circle cx="1345.8" cy="212.9" r="3.3"/><circle cx="1343.8" cy="219.8" r="3.3"/><circle cx="1357.6" cy="175.6" r="3.3"/><circle cx="1357.6" cy="185.6" r="3.3"/><circle cx="1356" cy="202.4" r="3.3"/><circle cx="1336" cy="236.5" r="3.3"/><circle cx="1305.6" cy="245.3" r="3.3"/><circle cx="1305.6" cy="253.1" r="3.3"/><circle cx="1336" cy="250.2" r="3.3"/><circle cx="1336" cy="259" r="3.3"/><circle cx="1348.7" cy="261" r="3.3"/><circle cx="1302.6" cy="269.8" r="3.3"/><circle cx="1305.6" cy="291.4" r="3.3"/><circle cx="1349.7" cy="277.6" r="3.3"/><circle cx="1346.7" cy="212.4" r="3.3"/><circle cx="1345" cy="220" r="3.3"/><circle cx="1367.7" cy="235.1" r="3.3"/><circle cx="1367.7" cy="238.4" r="3.3"/><circle cx="1358.5" cy="253.5" r="3.3"/><circle cx="1358.5" cy="256" r="3.3"/><circle cx="1367.7" cy="253.5" r="3.3"/><circle cx="1349.2" cy="261.1" r="3.3"/><circle cx="1358.5" cy="266.1" r="3.3"/><circle cx="1367.7" cy="268.7" r="3.3"/><circle cx="1349.2" cy="277.1" r="3.3"/><circle cx="1358.5" cy="283.8" r="3.3"/><circle cx="1349.2" cy="298.9" r="3.3"/><circle cx="1376.1" cy="264.5" r="3.3"/><circle cx="1376.1" cy="268.7" r="3.3"/><circle cx="1376.1" cy="272.9" r="3.3"/><circle cx="1376.1" cy="280.4" r="3.3"/><circle cx="1389.6" cy="257.7" r="3.3"/><circle cx="1389.6" cy="272.9" r="3.3"/><circle cx="1389.6" cy="299.5" r="3.3"/><circle cx="1389.6" cy="344.4" r="3.3"/><circle cx="1430.8" cy="230.8" r="3.3"/><circle cx="1439.2" cy="251.8" r="3.3"/><circle cx="1439.2" cy="272.9" r="3.3"/><circle cx="1433.3" cy="136" r="3.3"/><circle cx="1433.3" cy="151.1" r="3.3"/><circle cx="1434.1" cy="157.8" r="3.3"/><circle cx="1439.2" cy="141.8" r="3.3"/><circle cx="1439.2" cy="123.4" r="3.3"/><circle cx="1433.3" cy="183.9" r="3.3"/><circle cx="1431.6" cy="196.5" r="3.3"/><circle cx="1439.2" cy="216.6" r="3.3"/><circle cx="1431.6" cy="229.2" r="3.3"/><circle cx="1441.1" cy="118.7" r="3.3"/><circle cx="1441.1" cy="124.6" r="3.3"/><circle cx="1433.5" cy="136.4" r="3.3"/><circle cx="1441.1" cy="143.9" r="3.3"/><circle cx="1441.1" cy="147.3" r="3.3"/><circle cx="1434.4" cy="151.5" r="3.3"/><circle cx="1434.4" cy="158.2" r="3.3"/><circle cx="1433.5" cy="184.3" r="3.3"/><circle cx="1445.3" cy="182.6" r="3.3"/><circle cx="1448.7" cy="184.3" r="3.3"/><circle cx="1480.6" cy="139.7" r="3.3"/><circle cx="1481.4" cy="146.5" r="3.3"/><circle cx="1480.6" cy="179.2" r="3.3"/><circle cx="1513.2" cy="96.1" r="3.3"/><circle cx="1513.2" cy="100.6" r="3.3"/><circle cx="1512.7" cy="111.3" r="3.3"/><circle cx="1516.9" cy="113.8" r="3.3"/><circle cx="1516.9" cy="128.1" r="3.3"/><circle cx="1512.7" cy="139" r="3.3"/><circle cx="1431.1" cy="196.8" r="3.3"/><circle cx="1431.9" cy="200.2" r="3.3"/><circle cx="1443.7" cy="182.5" r="3.3"/><circle cx="1447.1" cy="183.4" r="3.3"/><circle cx="1445.4" cy="205.2" r="3.3"/><circle cx="1448.7" cy="208.6" r="3.3"/><circle cx="1439.5" cy="217" r="3.3"/><circle cx="1431.1" cy="229.6" r="3.3"/><circle cx="1447.1" cy="229.6" r="3.3"/><circle cx="1439.5" cy="251.4" r="3.3"/><circle cx="1447.1" cy="253.9" r="3.3"/><circle cx="1453.8" cy="248.1" r="3.3"/><circle cx="1453.8" cy="261.5" r="3.3"/><circle cx="1440.3" cy="273.3" r="3.3"/><circle cx="1479" cy="181.7" r="3.3"/><circle cx="1516.4" cy="165.6" r="3.3"/><circle cx="1544.6" cy="104.5" r="3.3"/><circle cx="1545.5" cy="118.8" r="3.3"/><circle cx="1544.6" cy="156.6" r="3.3"/><circle cx="1555.5" cy="123" r="3.3"/><circle cx="1555.5" cy="146.6" r="3.3"/><circle cx="1555.6" cy="192.2" r="3.3"/><circle cx="1555.6" cy="209.7" r="3.3"/><circle cx="1578" cy="188" r="3.3"/><circle cx="1578" cy="197.1" r="3.3"/><circle cx="1578" cy="217.4" r="3.3"/><circle cx="1579.3" cy="187" r="3.3"/><circle cx="1579.3" cy="189.5" r="3.3"/><circle cx="1601.8" cy="96.3" r="3.3"/><circle cx="1601.8" cy="119" r="3.3"/><circle cx="1601.3" cy="162.4" r="3.3"/><circle cx="1601.2" cy="184.5" r="3.3"/><circle cx="1621.2" cy="75.3" r="3.3"/><circle cx="1621.2" cy="89.6" r="3.3"/><circle cx="1621.2" cy="123.2" r="3.3"/><circle cx="1616.3" cy="194.5" r="3.3"/><circle cx="1616.3" cy="241.6" r="3.3"/><circle cx="1616.3" cy="246.6" r="3.3"/><circle cx="1676.8" cy="82.8" r="3.3"/><circle cx="1685.2" cy="76" r="3.3"/><circle cx="1676.8" cy="104.6" r="3.3"/><circle cx="1685.2" cy="103.8" r="3.3"/><circle cx="1685.2" cy="141.6" r="3.3"/><circle cx="1676.8" cy="148.3" r="3.3"/><circle cx="1685.2" cy="166" r="3.3"/><circle cx="1676.8" cy="169.3" r="3.3"/></g>
<g fill="#39A998"><circle cx="1117" cy="346.6" r="4.2"/><circle cx="1117" cy="357.5" r="4.2"/><circle cx="1117" cy="369.8" r="4.2"/><circle cx="1117" cy="372.3" r="4.2"/><circle cx="1117" cy="391.4" r="4.2"/><circle cx="1117" cy="398.7" r="4.2"/><circle cx="1117" cy="451.5" r="4.2"/><circle cx="1117" cy="498.9" r="4.2"/><circle cx="1117" cy="540.7" r="4.2"/><circle cx="1117" cy="560.1" r="4.2"/><circle cx="1117" cy="570" r="4.2"/><circle cx="1117" cy="629.3" r="4.2"/><circle cx="1232.4" cy="306.9" r="4.2"/><circle cx="1232.4" cy="311.9" r="4.2"/><circle cx="1232.4" cy="323.7" r="4.2"/><circle cx="1232.4" cy="328.7" r="4.2"/><circle cx="1250.4" cy="288.7" r="4.2"/><circle cx="1249.2" cy="369" r="4.2"/><circle cx="1250.4" cy="230.3" r="4.2"/><circle cx="1250.4" cy="255.5" r="4.2"/><circle cx="1250.4" cy="269.7" r="4.2"/><circle cx="1252.1" cy="329.3" r="4.2"/><circle cx="1252.1" cy="366.2" r="4.2"/><circle cx="1252.1" cy="372.1" r="4.2"/><circle cx="1270" cy="164.3" r="4.2"/><circle cx="1270" cy="177.3" r="4.2"/><circle cx="1270" cy="212" r="4.2"/><circle cx="1270" cy="217.2" r="4.2"/><circle cx="1270" cy="222.5" r="4.2"/><circle cx="1270" cy="286.6" r="4.2"/><circle cx="1270" cy="307.9" r="4.2"/><circle cx="1270" cy="313.8" r="4.2"/><circle cx="1270" cy="319.8" r="4.2"/><circle cx="1270" cy="367.4" r="4.2"/><circle cx="1270" cy="390" r="4.2"/><circle cx="1270" cy="399.5" r="4.2"/><circle cx="1270" cy="403.1" r="4.2"/><circle cx="1270" cy="406.7" r="4.2"/><circle cx="1270" cy="412.6" r="4.2"/><circle cx="1279.6" cy="171.3" r="4.2"/><circle cx="1279.8" cy="197.9" r="4.2"/><circle cx="1279.4" cy="225.6" r="4.2"/><circle cx="1336" cy="219.8" r="4.2"/><circle cx="1336" cy="226.7" r="4.2"/><circle cx="1319.9" cy="231.6" r="4.2"/><circle cx="1319.9" cy="235.5" r="4.2"/><circle cx="1319.9" cy="265.9" r="4.2"/><circle cx="1319.9" cy="269.8" r="4.2"/><circle cx="1337.9" cy="267.8" r="4.2"/><circle cx="1339.9" cy="273.7" r="4.2"/><circle cx="1337.9" cy="276.7" r="4.2"/><circle cx="1319.9" cy="282.5" r="4.2"/><circle cx="1337.9" cy="289.4" r="4.2"/><circle cx="1341.9" cy="295.3" r="4.2"/><circle cx="1319.9" cy="298.2" r="4.2"/><circle cx="1318.6" cy="300.5" r="4.2"/><circle cx="1340.7" cy="293.2" r="4.2"/><circle cx="1340.7" cy="299.5" r="4.2"/><circle cx="1340.7" cy="311" r="4.2"/><circle cx="1318.6" cy="321.5" r="4.2"/><circle cx="1302.9" cy="334.1" r="4.2"/><circle cx="1302.9" cy="343.6" r="4.2"/><circle cx="1309.8" cy="362.5" r="4.2"/><circle cx="1302.9" cy="368.2" r="4.2"/><circle cx="1302.9" cy="398.3" r="4.2"/><circle cx="1309.8" cy="411.9" r="4.2"/><circle cx="1309.8" cy="426.2" r="4.2"/><circle cx="1309.8" cy="436.1" r="4.2"/><circle cx="1368.6" cy="179.7" r="4.2"/><circle cx="1368.6" cy="183.9" r="4.2"/><circle cx="1359.3" cy="196.5" r="4.2"/><circle cx="1359.3" cy="207.4" r="4.2"/><circle cx="1368.6" cy="202.4" r="4.2"/><circle cx="1360.2" cy="221.7" r="4.2"/><circle cx="1360.2" cy="225.9" r="4.2"/><circle cx="1361.8" cy="230.1" r="4.2"/><circle cx="1394.6" cy="173.8" r="4.2"/><circle cx="1394.6" cy="178.8" r="4.2"/><circle cx="1398.8" cy="199" r="4.2"/><circle cx="1394.6" cy="203.2" r="4.2"/><circle cx="1398.8" cy="207.4" r="4.2"/><circle cx="1399.7" cy="210.8" r="4.2"/><circle cx="1398.8" cy="229.2" r="4.2"/><circle cx="1422.4" cy="177.1" r="4.2"/><circle cx="1427.4" cy="162.9" r="4.2"/><circle cx="1419" cy="191.4" r="4.2"/><circle cx="1422.4" cy="194.8" r="4.2"/><circle cx="1422.4" cy="199" r="4.2"/><circle cx="1425.7" cy="202.4" r="4.2"/><circle cx="1427.4" cy="206.6" r="4.2"/><circle cx="1419.8" cy="219.2" r="4.2"/><circle cx="1361.8" cy="248.5" r="4.2"/><circle cx="1441.1" cy="88" r="4.2"/><circle cx="1441.1" cy="99.5" r="4.2"/><circle cx="1441.1" cy="111.2" r="4.2"/><circle cx="1445.3" cy="136.4" r="4.2"/><circle cx="1426.8" cy="163.3" r="4.2"/><circle cx="1422.6" cy="176.7" r="4.2"/><circle cx="1419.2" cy="187.6" r="4.2"/><circle cx="1445.3" cy="174.2" r="4.2"/><circle cx="1452" cy="187.6" r="4.2"/><circle cx="1489" cy="108.7" r="4.2"/><circle cx="1489" cy="113.7" r="4.2"/><circle cx="1489" cy="131.3" r="4.2"/><circle cx="1473" cy="145.6" r="4.2"/><circle cx="1477.2" cy="152.4" r="4.2"/><circle cx="1477.2" cy="165.8" r="4.2"/><circle cx="1477.2" cy="172.5" r="4.2"/><circle cx="1478.1" cy="177.6" r="4.2"/><circle cx="1473.9" cy="184.3" r="4.2"/><circle cx="1480.6" cy="186" r="4.2"/><circle cx="1484.8" cy="184.3" r="4.2"/><circle cx="1420.2" cy="191.8" r="4.2"/><circle cx="1423.5" cy="196.8" r="4.2"/><circle cx="1423.5" cy="201" r="4.2"/><circle cx="1426.9" cy="206.1" r="4.2"/><circle cx="1419.3" cy="218.7" r="4.2"/><circle cx="1452.1" cy="187.6" r="4.2"/><circle cx="1453.8" cy="196" r="4.2"/><circle cx="1450.4" cy="200.2" r="4.2"/><circle cx="1443.7" cy="197.6" r="4.2"/><circle cx="1452.1" cy="218.7" r="4.2"/><circle cx="1452.1" cy="226.2" r="4.2"/><circle cx="1452.1" cy="233.8" r="4.2"/><circle cx="1443.7" cy="233.8" r="4.2"/><circle cx="1443.7" cy="243.9" r="4.2"/><circle cx="1473.9" cy="185" r="4.2"/><circle cx="1480.7" cy="183.4" r="4.2"/><circle cx="1484" cy="185" r="4.2"/><circle cx="1479" cy="191.8" r="4.2"/><circle cx="1484" cy="190.1" r="4.2"/><circle cx="1479" cy="198.5" r="4.2"/><circle cx="1484" cy="200.2" r="4.2"/><circle cx="1484" cy="214.5" r="4.2"/><circle cx="1478.7" cy="225.2" r="4.2"/><circle cx="1477.5" cy="240" r="4.2"/><circle cx="1477.5" cy="247" r="4.2"/><circle cx="1477.5" cy="280.6" r="4.2"/><circle cx="1477.5" cy="284.5" r="4.2"/><circle cx="1400" cy="198.5" r="4.2"/><circle cx="1400" cy="208.6" r="4.2"/><circle cx="1400" cy="229.6" r="4.2"/><circle cx="1516.6" cy="235.1" r="4.2"/><circle cx="1516.6" cy="241.5" r="4.2"/><circle cx="1516.6" cy="246.1" r="4.2"/><circle cx="1484.2" cy="183.8" r="4.2"/><circle cx="1484.2" cy="189.4" r="4.2"/><circle cx="1484.2" cy="199.2" r="4.2"/><circle cx="1507.3" cy="199.9" r="4.2"/><circle cx="1525.3" cy="90.3" r="4.2"/><circle cx="1525.3" cy="101.2" r="4.2"/><circle cx="1525.3" cy="119.7" r="4.2"/><circle cx="1525.3" cy="137.3" r="4.2"/><circle cx="1517.7" cy="150.8" r="4.2"/><circle cx="1517.7" cy="156.6" r="4.2"/><circle cx="1517.7" cy="170.1" r="4.2"/><circle cx="1507.6" cy="160.8" r="4.2"/><circle cx="1507.6" cy="170.9" r="4.2"/><circle cx="1507.6" cy="176" r="4.2"/><circle cx="1517.8" cy="160" r="4.2"/><circle cx="1517.8" cy="169.8" r="4.2"/><circle cx="1544.6" cy="81" r="4.2"/><circle cx="1544.6" cy="91.1" r="4.2"/><circle cx="1544.6" cy="112.1" r="4.2"/><circle cx="1538.7" cy="118.8" r="4.2"/><circle cx="1544.6" cy="118.8" r="4.2"/><circle cx="1544.6" cy="126.4" r="4.2"/><circle cx="1538.7" cy="133.1" r="4.2"/><circle cx="1544.6" cy="136.5" r="4.2"/><circle cx="1544.6" cy="142.4" r="4.2"/><circle cx="1544.6" cy="147.4" r="4.2"/><circle cx="1544.6" cy="151.6" r="4.2"/><circle cx="1538.7" cy="158.3" r="4.2"/><circle cx="1544.6" cy="162.5" r="4.2"/><circle cx="1563.9" cy="78.5" r="4.2"/><circle cx="1563.9" cy="83.5" r="4.2"/><circle cx="1563.9" cy="86.9" r="4.2"/><circle cx="1563.9" cy="113.8" r="4.2"/><circle cx="1579.9" cy="125.5" r="4.2"/><circle cx="1579.9" cy="139" r="4.2"/><circle cx="1579.9" cy="143.2" r="4.2"/><circle cx="1579.9" cy="151.6" r="4.2"/><circle cx="1579.9" cy="160.8" r="4.2"/><circle cx="1580.2" cy="152.5" r="4.2"/><circle cx="1490" cy="108.7" r="4.2"/><circle cx="1490" cy="113.8" r="4.2"/><circle cx="1490" cy="130.6" r="4.2"/><circle cx="1621.2" cy="58.5" r="4.2"/><circle cx="1621.2" cy="63.5" r="4.2"/><circle cx="1621.2" cy="82.9" r="4.2"/><circle cx="1621.2" cy="95.5" r="4.2"/><circle cx="1621.2" cy="98.8" r="4.2"/><circle cx="1617.8" cy="131.6" r="4.2"/><circle cx="1622" cy="130.8" r="4.2"/><circle cx="1621.2" cy="135.8" r="4.2"/><circle cx="1637.1" cy="109.7" r="4.2"/><circle cx="1637.1" cy="122.4" r="4.2"/><circle cx="1662.4" cy="116.5" r="4.2"/><circle cx="1662.4" cy="120.7" r="4.2"/><circle cx="1662.4" cy="138.3" r="4.2"/><circle cx="1622" cy="156" r="4.2"/><circle cx="1637.1" cy="160" r="4.2"/><circle cx="1662.4" cy="156.8" r="4.2"/><circle cx="1622.2" cy="157.6" r="4.2"/><circle cx="1622.2" cy="166" r="4.2"/><circle cx="1616.3" cy="171.8" r="4.2"/><circle cx="1616.3" cy="176.1" r="4.2"/><circle cx="1622.2" cy="183.6" r="4.2"/><circle cx="1636.5" cy="160.1" r="4.2"/><circle cx="1662.5" cy="157.6" r="4.2"/><circle cx="1728.1" cy="63.4" r="4.2"/><circle cx="1728.1" cy="79.4" r="4.2"/><circle cx="1728.1" cy="108.8" r="4.2"/><circle cx="1728.1" cy="118.1" r="4.2"/><circle cx="1752.4" cy="70.2" r="4.2"/><circle cx="1752.4" cy="81.1" r="4.2"/><circle cx="1752.4" cy="115.5" r="4.2"/><circle cx="1752.4" cy="123.1" r="4.2"/><circle cx="1544.4" cy="162.8" r="4.2"/></g><g fill="#4EC4B2"><circle cx="1117" cy="346.6" r="3.3"/><circle cx="1117" cy="357.5" r="3.3"/><circle cx="1117" cy="369.8" r="3.3"/><circle cx="1117" cy="372.3" r="3.3"/><circle cx="1117" cy="391.4" r="3.3"/><circle cx="1117" cy="398.7" r="3.3"/><circle cx="1117" cy="451.5" r="3.3"/><circle cx="1117" cy="498.9" r="3.3"/><circle cx="1117" cy="540.7" r="3.3"/><circle cx="1117" cy="560.1" r="3.3"/><circle cx="1117" cy="570" r="3.3"/><circle cx="1117" cy="629.3" r="3.3"/><circle cx="1232.4" cy="306.9" r="3.3"/><circle cx="1232.4" cy="311.9" r="3.3"/><circle cx="1232.4" cy="323.7" r="3.3"/><circle cx="1232.4" cy="328.7" r="3.3"/><circle cx="1250.4" cy="288.7" r="3.3"/><circle cx="1249.2" cy="369" r="3.3"/><circle cx="1250.4" cy="230.3" r="3.3"/><circle cx="1250.4" cy="255.5" r="3.3"/><circle cx="1250.4" cy="269.7" r="3.3"/><circle cx="1252.1" cy="329.3" r="3.3"/><circle cx="1252.1" cy="366.2" r="3.3"/><circle cx="1252.1" cy="372.1" r="3.3"/><circle cx="1270" cy="164.3" r="3.3"/><circle cx="1270" cy="177.3" r="3.3"/><circle cx="1270" cy="212" r="3.3"/><circle cx="1270" cy="217.2" r="3.3"/><circle cx="1270" cy="222.5" r="3.3"/><circle cx="1270" cy="286.6" r="3.3"/><circle cx="1270" cy="307.9" r="3.3"/><circle cx="1270" cy="313.8" r="3.3"/><circle cx="1270" cy="319.8" r="3.3"/><circle cx="1270" cy="367.4" r="3.3"/><circle cx="1270" cy="390" r="3.3"/><circle cx="1270" cy="399.5" r="3.3"/><circle cx="1270" cy="403.1" r="3.3"/><circle cx="1270" cy="406.7" r="3.3"/><circle cx="1270" cy="412.6" r="3.3"/><circle cx="1279.6" cy="171.3" r="3.3"/><circle cx="1279.8" cy="197.9" r="3.3"/><circle cx="1279.4" cy="225.6" r="3.3"/><circle cx="1336" cy="219.8" r="3.3"/><circle cx="1336" cy="226.7" r="3.3"/><circle cx="1319.9" cy="231.6" r="3.3"/><circle cx="1319.9" cy="235.5" r="3.3"/><circle cx="1319.9" cy="265.9" r="3.3"/><circle cx="1319.9" cy="269.8" r="3.3"/><circle cx="1337.9" cy="267.8" r="3.3"/><circle cx="1339.9" cy="273.7" r="3.3"/><circle cx="1337.9" cy="276.7" r="3.3"/><circle cx="1319.9" cy="282.5" r="3.3"/><circle cx="1337.9" cy="289.4" r="3.3"/><circle cx="1341.9" cy="295.3" r="3.3"/><circle cx="1319.9" cy="298.2" r="3.3"/><circle cx="1318.6" cy="300.5" r="3.3"/><circle cx="1340.7" cy="293.2" r="3.3"/><circle cx="1340.7" cy="299.5" r="3.3"/><circle cx="1340.7" cy="311" r="3.3"/><circle cx="1318.6" cy="321.5" r="3.3"/><circle cx="1302.9" cy="334.1" r="3.3"/><circle cx="1302.9" cy="343.6" r="3.3"/><circle cx="1309.8" cy="362.5" r="3.3"/><circle cx="1302.9" cy="368.2" r="3.3"/><circle cx="1302.9" cy="398.3" r="3.3"/><circle cx="1309.8" cy="411.9" r="3.3"/><circle cx="1309.8" cy="426.2" r="3.3"/><circle cx="1309.8" cy="436.1" r="3.3"/><circle cx="1368.6" cy="179.7" r="3.3"/><circle cx="1368.6" cy="183.9" r="3.3"/><circle cx="1359.3" cy="196.5" r="3.3"/><circle cx="1359.3" cy="207.4" r="3.3"/><circle cx="1368.6" cy="202.4" r="3.3"/><circle cx="1360.2" cy="221.7" r="3.3"/><circle cx="1360.2" cy="225.9" r="3.3"/><circle cx="1361.8" cy="230.1" r="3.3"/><circle cx="1394.6" cy="173.8" r="3.3"/><circle cx="1394.6" cy="178.8" r="3.3"/><circle cx="1398.8" cy="199" r="3.3"/><circle cx="1394.6" cy="203.2" r="3.3"/><circle cx="1398.8" cy="207.4" r="3.3"/><circle cx="1399.7" cy="210.8" r="3.3"/><circle cx="1398.8" cy="229.2" r="3.3"/><circle cx="1422.4" cy="177.1" r="3.3"/><circle cx="1427.4" cy="162.9" r="3.3"/><circle cx="1419" cy="191.4" r="3.3"/><circle cx="1422.4" cy="194.8" r="3.3"/><circle cx="1422.4" cy="199" r="3.3"/><circle cx="1425.7" cy="202.4" r="3.3"/><circle cx="1427.4" cy="206.6" r="3.3"/><circle cx="1419.8" cy="219.2" r="3.3"/><circle cx="1361.8" cy="248.5" r="3.3"/><circle cx="1441.1" cy="88" r="3.3"/><circle cx="1441.1" cy="99.5" r="3.3"/><circle cx="1441.1" cy="111.2" r="3.3"/><circle cx="1445.3" cy="136.4" r="3.3"/><circle cx="1426.8" cy="163.3" r="3.3"/><circle cx="1422.6" cy="176.7" r="3.3"/><circle cx="1419.2" cy="187.6" r="3.3"/><circle cx="1445.3" cy="174.2" r="3.3"/><circle cx="1452" cy="187.6" r="3.3"/><circle cx="1489" cy="108.7" r="3.3"/><circle cx="1489" cy="113.7" r="3.3"/><circle cx="1489" cy="131.3" r="3.3"/><circle cx="1473" cy="145.6" r="3.3"/><circle cx="1477.2" cy="152.4" r="3.3"/><circle cx="1477.2" cy="165.8" r="3.3"/><circle cx="1477.2" cy="172.5" r="3.3"/><circle cx="1478.1" cy="177.6" r="3.3"/><circle cx="1473.9" cy="184.3" r="3.3"/><circle cx="1480.6" cy="186" r="3.3"/><circle cx="1484.8" cy="184.3" r="3.3"/><circle cx="1420.2" cy="191.8" r="3.3"/><circle cx="1423.5" cy="196.8" r="3.3"/><circle cx="1423.5" cy="201" r="3.3"/><circle cx="1426.9" cy="206.1" r="3.3"/><circle cx="1419.3" cy="218.7" r="3.3"/><circle cx="1452.1" cy="187.6" r="3.3"/><circle cx="1453.8" cy="196" r="3.3"/><circle cx="1450.4" cy="200.2" r="3.3"/><circle cx="1443.7" cy="197.6" r="3.3"/><circle cx="1452.1" cy="218.7" r="3.3"/><circle cx="1452.1" cy="226.2" r="3.3"/><circle cx="1452.1" cy="233.8" r="3.3"/><circle cx="1443.7" cy="233.8" r="3.3"/><circle cx="1443.7" cy="243.9" r="3.3"/><circle cx="1473.9" cy="185" r="3.3"/><circle cx="1480.7" cy="183.4" r="3.3"/><circle cx="1484" cy="185" r="3.3"/><circle cx="1479" cy="191.8" r="3.3"/><circle cx="1484" cy="190.1" r="3.3"/><circle cx="1479" cy="198.5" r="3.3"/><circle cx="1484" cy="200.2" r="3.3"/><circle cx="1484" cy="214.5" r="3.3"/><circle cx="1478.7" cy="225.2" r="3.3"/><circle cx="1477.5" cy="240" r="3.3"/><circle cx="1477.5" cy="247" r="3.3"/><circle cx="1477.5" cy="280.6" r="3.3"/><circle cx="1477.5" cy="284.5" r="3.3"/><circle cx="1400" cy="198.5" r="3.3"/><circle cx="1400" cy="208.6" r="3.3"/><circle cx="1400" cy="229.6" r="3.3"/><circle cx="1516.6" cy="235.1" r="3.3"/><circle cx="1516.6" cy="241.5" r="3.3"/><circle cx="1516.6" cy="246.1" r="3.3"/><circle cx="1484.2" cy="183.8" r="3.3"/><circle cx="1484.2" cy="189.4" r="3.3"/><circle cx="1484.2" cy="199.2" r="3.3"/><circle cx="1507.3" cy="199.9" r="3.3"/><circle cx="1525.3" cy="90.3" r="3.3"/><circle cx="1525.3" cy="101.2" r="3.3"/><circle cx="1525.3" cy="119.7" r="3.3"/><circle cx="1525.3" cy="137.3" r="3.3"/><circle cx="1517.7" cy="150.8" r="3.3"/><circle cx="1517.7" cy="156.6" r="3.3"/><circle cx="1517.7" cy="170.1" r="3.3"/><circle cx="1507.6" cy="160.8" r="3.3"/><circle cx="1507.6" cy="170.9" r="3.3"/><circle cx="1507.6" cy="176" r="3.3"/><circle cx="1517.8" cy="160" r="3.3"/><circle cx="1517.8" cy="169.8" r="3.3"/><circle cx="1544.6" cy="81" r="3.3"/><circle cx="1544.6" cy="91.1" r="3.3"/><circle cx="1544.6" cy="112.1" r="3.3"/><circle cx="1538.7" cy="118.8" r="3.3"/><circle cx="1544.6" cy="118.8" r="3.3"/><circle cx="1544.6" cy="126.4" r="3.3"/><circle cx="1538.7" cy="133.1" r="3.3"/><circle cx="1544.6" cy="136.5" r="3.3"/><circle cx="1544.6" cy="142.4" r="3.3"/><circle cx="1544.6" cy="147.4" r="3.3"/><circle cx="1544.6" cy="151.6" r="3.3"/><circle cx="1538.7" cy="158.3" r="3.3"/><circle cx="1544.6" cy="162.5" r="3.3"/><circle cx="1563.9" cy="78.5" r="3.3"/><circle cx="1563.9" cy="83.5" r="3.3"/><circle cx="1563.9" cy="86.9" r="3.3"/><circle cx="1563.9" cy="113.8" r="3.3"/><circle cx="1579.9" cy="125.5" r="3.3"/><circle cx="1579.9" cy="139" r="3.3"/><circle cx="1579.9" cy="143.2" r="3.3"/><circle cx="1579.9" cy="151.6" r="3.3"/><circle cx="1579.9" cy="160.8" r="3.3"/><circle cx="1580.2" cy="152.5" r="3.3"/><circle cx="1490" cy="108.7" r="3.3"/><circle cx="1490" cy="113.8" r="3.3"/><circle cx="1490" cy="130.6" r="3.3"/><circle cx="1621.2" cy="58.5" r="3.3"/><circle cx="1621.2" cy="63.5" r="3.3"/><circle cx="1621.2" cy="82.9" r="3.3"/><circle cx="1621.2" cy="95.5" r="3.3"/><circle cx="1621.2" cy="98.8" r="3.3"/><circle cx="1617.8" cy="131.6" r="3.3"/><circle cx="1622" cy="130.8" r="3.3"/><circle cx="1621.2" cy="135.8" r="3.3"/><circle cx="1637.1" cy="109.7" r="3.3"/><circle cx="1637.1" cy="122.4" r="3.3"/><circle cx="1662.4" cy="116.5" r="3.3"/><circle cx="1662.4" cy="120.7" r="3.3"/><circle cx="1662.4" cy="138.3" r="3.3"/><circle cx="1622" cy="156" r="3.3"/><circle cx="1637.1" cy="160" r="3.3"/><circle cx="1662.4" cy="156.8" r="3.3"/><circle cx="1622.2" cy="157.6" r="3.3"/><circle cx="1622.2" cy="166" r="3.3"/><circle cx="1616.3" cy="171.8" r="3.3"/><circle cx="1616.3" cy="176.1" r="3.3"/><circle cx="1622.2" cy="183.6" r="3.3"/><circle cx="1636.5" cy="160.1" r="3.3"/><circle cx="1662.5" cy="157.6" r="3.3"/><circle cx="1728.1" cy="63.4" r="3.3"/><circle cx="1728.1" cy="79.4" r="3.3"/><circle cx="1728.1" cy="108.8" r="3.3"/><circle cx="1728.1" cy="118.1" r="3.3"/><circle cx="1752.4" cy="70.2" r="3.3"/><circle cx="1752.4" cy="81.1" r="3.3"/><circle cx="1752.4" cy="115.5" r="3.3"/><circle cx="1752.4" cy="123.1" r="3.3"/><circle cx="1544.4" cy="162.8" r="3.3"/></g>
<line x1="1085.3" y1="501.7" x2="1645.8" y2="30.9" stroke="#000" stroke-width="2.0"/>
</g>
<text font-size="17.8" fill="#666" stroke="#666" stroke-width="0.25" x="78.1" y="103.0" text-anchor="end">50000</text>
<text font-size="17.8" fill="#666" stroke="#666" stroke-width="0.25" x="78.1" y="212.3" text-anchor="end">30000</text>
<text font-size="17.8" fill="#666" stroke="#666" stroke-width="0.25" x="78.1" y="446.5" text-anchor="end">10000</text>
<text font-size="17.8" fill="#666" stroke="#666" stroke-width="0.25" x="78.1" y="594.3" text-anchor="end">5000</text>
<text font-size="17.8" fill="#666" stroke="#666" stroke-width="0.25" x="160.3" y="679.9" text-anchor="middle">5000</text>
<text font-size="17.8" fill="#666" stroke="#666" stroke-width="0.25" x="318.9" y="679.9" text-anchor="middle">10000</text>
<text font-size="17.8" fill="#666" stroke="#666" stroke-width="0.25" x="572.0" y="679.9" text-anchor="middle">30000</text>
<text font-size="17.8" fill="#666" stroke="#666" stroke-width="0.25" x="688.9" y="679.9" text-anchor="middle">50000</text>
<text transform="translate(13.00 35.60) scale(0.9607 1)" font-size="38.00" fill="#000">A</text>
<text transform="translate(403.40 703.80) scale(0.9558 1)" font-size="22.30" fill="#000" stroke="#000" stroke-width="0.3">Data</text>
<text transform="translate(20.00 396.80) rotate(-90) scale(0.9846 1)" font-size="22.30" fill="#000" stroke="#000" stroke-width="0.3">Prediction</text>
<text transform="translate(796.60 314.20) scale(1.0320 1)" font-size="20.80" fill="#1A1A1A" stroke="#1A1A1A" stroke-width="0.3">Output Variable</text>
<text transform="translate(841.60 351.00) scale(1.0001 1)" font-size="17.20" fill="#1A1A1A" stroke="#1A1A1A" stroke-width="0.3">Qu_out</text>
<text transform="translate(841.60 384.60) scale(0.9942 1)" font-size="17.20" fill="#1A1A1A" stroke="#1A1A1A" stroke-width="0.3">Qu_tot_out</text>
<text transform="translate(1001.60 35.40) scale(1.0010 1)" font-size="38.00" fill="#000">B</text>
<text transform="translate(1411.80 703.80) scale(0.9558 1)" font-size="22.30" fill="#000" stroke="#000" stroke-width="0.3">Data</text>
<text transform="translate(1031.60 394.00) rotate(-90) scale(0.9845 1)" font-size="22.30" fill="#000" stroke="#000" stroke-width="0.3">Prediction</text>
<text transform="translate(1816.20 312.20) scale(1.0320 1)" font-size="20.80" fill="#1A1A1A" stroke="#1A1A1A" stroke-width="0.3">Output Variable</text>
<text transform="translate(1860.80 348.80) scale(1.0221 1)" font-size="17.20" fill="#1A1A1A" stroke="#1A1A1A" stroke-width="0.3">Ccpt_out</text>
<text transform="translate(1860.80 382.00) scale(1.0236 1)" font-size="17.20" fill="#1A1A1A" stroke="#1A1A1A" stroke-width="0.3">Ctot_out</text>
<circle cx="814.5" cy="344.7" r="3.85" fill="#EB6D6D" stroke="#D65F61" stroke-width="1.0"/>
<circle cx="814.5" cy="378.3" r="3.85" fill="#4EC4B2" stroke="#39A998" stroke-width="1.0"/>
<text font-size="17.8" fill="#666" stroke="#666" stroke-width="0.25" x="1075.9" y="72.9" text-anchor="end">1.00</text>
<text font-size="17.8" fill="#666" stroke="#666" stroke-width="0.25" x="1075.9" y="328.3" text-anchor="end">0.10</text>
<text font-size="17.8" fill="#666" stroke="#666" stroke-width="0.25" x="1075.9" y="582.5" text-anchor="end">0.01</text>
<text font-size="17.8" fill="#666" stroke="#666" stroke-width="0.25" x="1141.3" y="679.9" text-anchor="middle">0.03</text>
<text font-size="17.8" fill="#666" stroke="#666" stroke-width="0.25" x="1299.3" y="679.9" text-anchor="middle">0.10</text>
<text font-size="17.8" fill="#666" stroke="#666" stroke-width="0.25" x="1444.0" y="679.9" text-anchor="middle">0.30</text>
<text font-size="17.8" fill="#666" stroke="#666" stroke-width="0.25" x="1602.5" y="679.9" text-anchor="middle">1.00</text>
<text font-size="17.8" fill="#666" stroke="#666" stroke-width="0.25" x="1747.7" y="679.9" text-anchor="middle">3.00</text>
<circle cx="1833.1" cy="343.0" r="3.85" fill="#EB6D6D" stroke="#D65F61" stroke-width="1.0"/>
<circle cx="1833.1" cy="376.6" r="3.85" fill="#4EC4B2" stroke="#39A998" stroke-width="1.0"/>
</svg>
</body></html>
